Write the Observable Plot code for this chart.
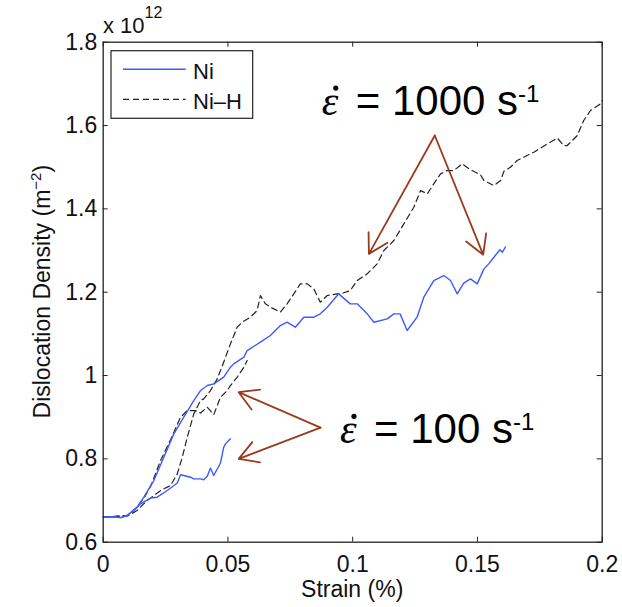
<!DOCTYPE html>
<html><head><meta charset="utf-8">
<script src="https://cdn.jsdelivr.net/npm/d3@7"></script>
<script src="https://cdn.jsdelivr.net/npm/@observablehq/plot@0.6"></script>
<style>body{margin:0;background:#fff;}</style>
</head><body><div id="chart"></div>
<script>
// ---------- data ----------
const xTicks = [0, 0.05, 0.1, 0.15, 0.2];
const yTicks = [0.6, 0.8, 1, 1.2, 1.4, 1.6, 1.8];
const seriesNames = ["Ni", "Ni\u2013H"];

// Ni, strain rate 1000 s^-1
const niStrain1000 = [0,0.004,0.007,0.0096,0.0136,0.0163,0.0203,0.0243,0.0283,0.0323,0.0363,0.039,0.0417,0.0443,0.0483,0.051,0.0523,0.0564,0.0577,0.063,0.067,0.071,0.0737,0.077,0.0804,0.0844,0.087,0.0898,0.0938,0.0944,0.099,0.1018,0.1058,0.1085,0.1138,0.1165,0.119,0.1218,0.1258,0.1285,0.1325,0.1365,0.1392,0.1419,0.1445,0.1472,0.1499,0.1526,0.1545,0.1566,0.159,0.16,0.1612];
const niDensity1000 = [0.66,0.661,0.659,0.664,0.684,0.708,0.748,0.804,0.86,0.90,0.94,0.964,0.976,0.98,0.996,1.02,1.028,1.044,1.06,1.08,1.096,1.12,1.128,1.116,1.14,1.14,1.148,1.164,1.192,1.196,1.172,1.172,1.148,1.128,1.136,1.148,1.148,1.108,1.14,1.188,1.228,1.24,1.228,1.196,1.222,1.232,1.22,1.256,1.268,1.284,1.302,1.296,1.308];

// Ni, strain rate 100 s^-1
const niStrain100 = [0,0.004,0.007,0.0096,0.0136,0.015,0.019,0.0216,0.0257,0.0297,0.031,0.0323,0.035,0.0363,0.039,0.0403,0.0417,0.043,0.0443,0.047,0.0483,0.049,0.0503,0.051];
const niDensity100 = [0.66,0.661,0.659,0.664,0.684,0.692,0.706,0.708,0.724,0.742,0.762,0.76,0.756,0.752,0.752,0.75,0.758,0.778,0.76,0.79,0.828,0.836,0.844,0.848];

// Ni-H, strain rate 1000 s^-1
const nihStrain1000 = [0,0.005,0.01,0.0136,0.0176,0.023,0.027,0.0297,0.0317,0.0337,0.0363,0.039,0.0403,0.043,0.0457,0.0483,0.051,0.0537,0.0557,0.059,0.0617,0.063,0.065,0.067,0.071,0.0737,0.0764,0.079,0.0818,0.0844,0.087,0.0898,0.0938,0.0951,0.099,0.1018,0.1058,0.1098,0.1125,0.1165,0.1205,0.1245,0.1272,0.1299,0.1325,0.1352,0.1379,0.1405,0.1439,0.1472,0.1512,0.1526,0.1566,0.1593,0.1606,0.1632,0.1659,0.1712,0.1726,0.178,0.182,0.1846,0.186,0.19,0.1926,0.1953,0.1993,0.2];
const nihDensity1000 = [0.66,0.662,0.664,0.676,0.70,0.724,0.736,0.764,0.804,0.852,0.908,0.94,0.944,0.964,0.992,1.032,1.076,1.116,1.128,1.14,1.156,1.192,1.172,1.164,1.152,1.172,1.196,1.22,1.22,1.208,1.176,1.192,1.196,1.196,1.204,1.228,1.244,1.268,1.30,1.324,1.364,1.404,1.444,1.436,1.46,1.484,1.492,1.492,1.508,1.494,1.482,1.468,1.456,1.468,1.49,1.50,1.516,1.532,1.536,1.556,1.57,1.552,1.552,1.576,1.612,1.636,1.652,1.66];

// Ni-H, strain rate 100 s^-1
const nihStrain100 = [0,0.005,0.01,0.0136,0.0163,0.019,0.023,0.027,0.031,0.0337,0.037,0.039,0.0417,0.0443,0.047,0.0497,0.051,0.0537,0.0564,0.0577];
const nihDensity100 = [0.66,0.662,0.664,0.684,0.706,0.734,0.796,0.846,0.90,0.916,0.916,0.91,0.924,0.906,0.948,0.964,0.976,0.996,1.02,1.036];

// annotations (data coordinates)
const rateLabels = ["1000", "100"];
const rateLabelX = [0.0878, 0.0951];
const rateLabelY = [1.624, 0.836];
const arrowFromX = [0.1329, 0.1329, 0.0871, 0.0871];
const arrowFromY = [1.576, 1.576, 0.875, 0.875];
const arrowToX = [0.1065, 0.1523, 0.0543, 0.0543];
const arrowToY = [1.292, 1.290, 0.96, 0.80];

// ---------- build ----------
const rows = (xs, ys) => xs.map((x, i) => ({x, y: ys[i]}));
const ni1000 = rows(niStrain1000, niDensity1000);
const ni100 = rows(niStrain100, niDensity100);
const nih1000 = rows(nihStrain1000, nihDensity1000);
const nih100 = rows(nihStrain100, nihDensity100);
const arrows = arrowFromX.map((x1, i) => ({x1, y1: arrowFromY[i], x2: arrowToX[i], y2: arrowToY[i]}));

const W = 622, H = 607, mL = 102.7, mR = 20.3, mT = 41.7, mB = 65.3;
const frameW = W - mL - mR, frameH = H - mT - mB, tickLen = 5;
const blue = "#3b5bff", dark = "#222", brown = "#9a3a1c";
const sans = "'Liberation Sans', Arial, Helvetica, sans-serif";
const serif = "'Liberation Serif', 'DejaVu Serif', serif";

const plot = Plot.plot({
  width: W, height: H,
  marginLeft: mL, marginRight: mR, marginTop: mT, marginBottom: mB,
  style: {fontFamily: sans, fontSize: "23px", color: "#111", background: "#fff"},
  x: {domain: [0, 0.2]},
  y: {domain: [0.6, 1.8]},
  marks: [
    Plot.axisX({ticks: xTicks, tickSize: 0, tickPadding: 13, tickFormat: d => String(d), label: null}),
    Plot.axisY({ticks: yTicks, tickSize: 0, tickPadding: 6, tickFormat: d => String(d), label: null}),
    Plot.tickX(xTicks, {x: d => d, insetTop: frameH - tickLen, stroke: dark}),
    Plot.tickX(xTicks, {x: d => d, insetBottom: frameH - tickLen, stroke: dark}),
    Plot.tickY(yTicks, {y: d => d, insetRight: frameW - tickLen, stroke: dark}),
    Plot.tickY(yTicks, {y: d => d, insetLeft: frameW - tickLen, stroke: dark}),
    Plot.line(nih1000, {x: "x", y: "y", stroke: dark, strokeWidth: 1.2, strokeDasharray: "6,4"}),
    Plot.line(nih100, {x: "x", y: "y", stroke: dark, strokeWidth: 1.2, strokeDasharray: "6,4"}),
    Plot.line(ni1000, {x: "x", y: "y", stroke: blue, strokeWidth: 1.4}),
    Plot.line(ni100, {x: "x", y: "y", stroke: blue, strokeWidth: 1.4}),
    Plot.arrow(arrows, {x1: "x1", y1: "y1", x2: "x2", y2: "y2", stroke: brown, strokeWidth: 1.8, headLength: 18, headAngle: 60, bend: 0}),
    Plot.frame({stroke: dark, strokeWidth: 1.3})
  ]
});
document.getElementById("chart").appendChild(plot);

const svg = d3.select(plot);
const sx = plot.scale("x"), sy = plot.scale("y");

// y axis label
const yl = svg.append("text")
  .attr("transform", `translate(50,${mT + frameH / 2}) rotate(-90)`)
  .attr("text-anchor", "middle").attr("font-family", sans).attr("font-size", 23).attr("fill", "#111");
yl.append("tspan").text("Dislocation Density (m");
yl.append("tspan").attr("font-size", 15).attr("dy", -9).text("\u22122");
yl.append("tspan").attr("dy", 9).text(")");

// x axis label
svg.append("text").attr("x", mL + frameW / 2).attr("y", 597)
  .attr("text-anchor", "middle").attr("font-family", sans).attr("font-size", 23).attr("fill", "#111")
  .text("Strain (%)");

// exponent
const ex = svg.append("text").attr("x", 103).attr("y", 33).attr("text-anchor", "start")
  .attr("font-family", sans).attr("font-size", 22).attr("fill", "#111");
ex.append("tspan").text("x 10");
ex.append("tspan").attr("font-size", 16).attr("dy", -15).text("12");

// legend
const lg = svg.append("g");
lg.append("rect").attr("x", 111).attr("y", 50.7).attr("width", 141.7).attr("height", 67.6)
  .attr("fill", "#fff").attr("stroke", dark).attr("stroke-width", 1.2);
lg.append("line").attr("x1", 123).attr("x2", 185.7).attr("y1", 69.3).attr("y2", 69.3)
  .attr("stroke", blue).attr("stroke-width", 1.4);
lg.append("line").attr("x1", 123).attr("x2", 185.7).attr("y1", 99.3).attr("y2", 99.3)
  .attr("stroke", dark).attr("stroke-width", 1.2).attr("stroke-dasharray", "6,4");
seriesNames.forEach((name, i) => {
  lg.append("text").attr("x", 193).attr("y", 79 + i * 30.3).attr("text-anchor", "start")
    .attr("font-family", sans).attr("font-size", 22).attr("fill", "#111").text(name);
});

// rate annotations: ε with an overdot, "= N s", superscript -1
rateLabels.forEach((r, i) => {
  const x0 = sx.apply(rateLabelX[i]), y0 = sy.apply(rateLabelY[i]);
  const g = svg.append("g").attr("fill", "#000");
  g.append("text").attr("x", x0).attr("y", y0).attr("text-anchor", "start")
    .attr("font-family", serif).attr("font-style", "italic").attr("font-size", 42).text("\u03B5");
  g.append("circle").attr("cx", x0 + 14).attr("cy", y0 - 27).attr("r", 2.6);
  const t = g.append("text").attr("x", x0 + 34).attr("y", y0).attr("text-anchor", "start")
    .attr("font-family", sans).attr("font-size", 42);
  t.append("tspan").text(`= ${r} s`);
  t.append("tspan").attr("font-size", 24).attr("dy", -13).text("-1");
});
</script>
</body></html>
